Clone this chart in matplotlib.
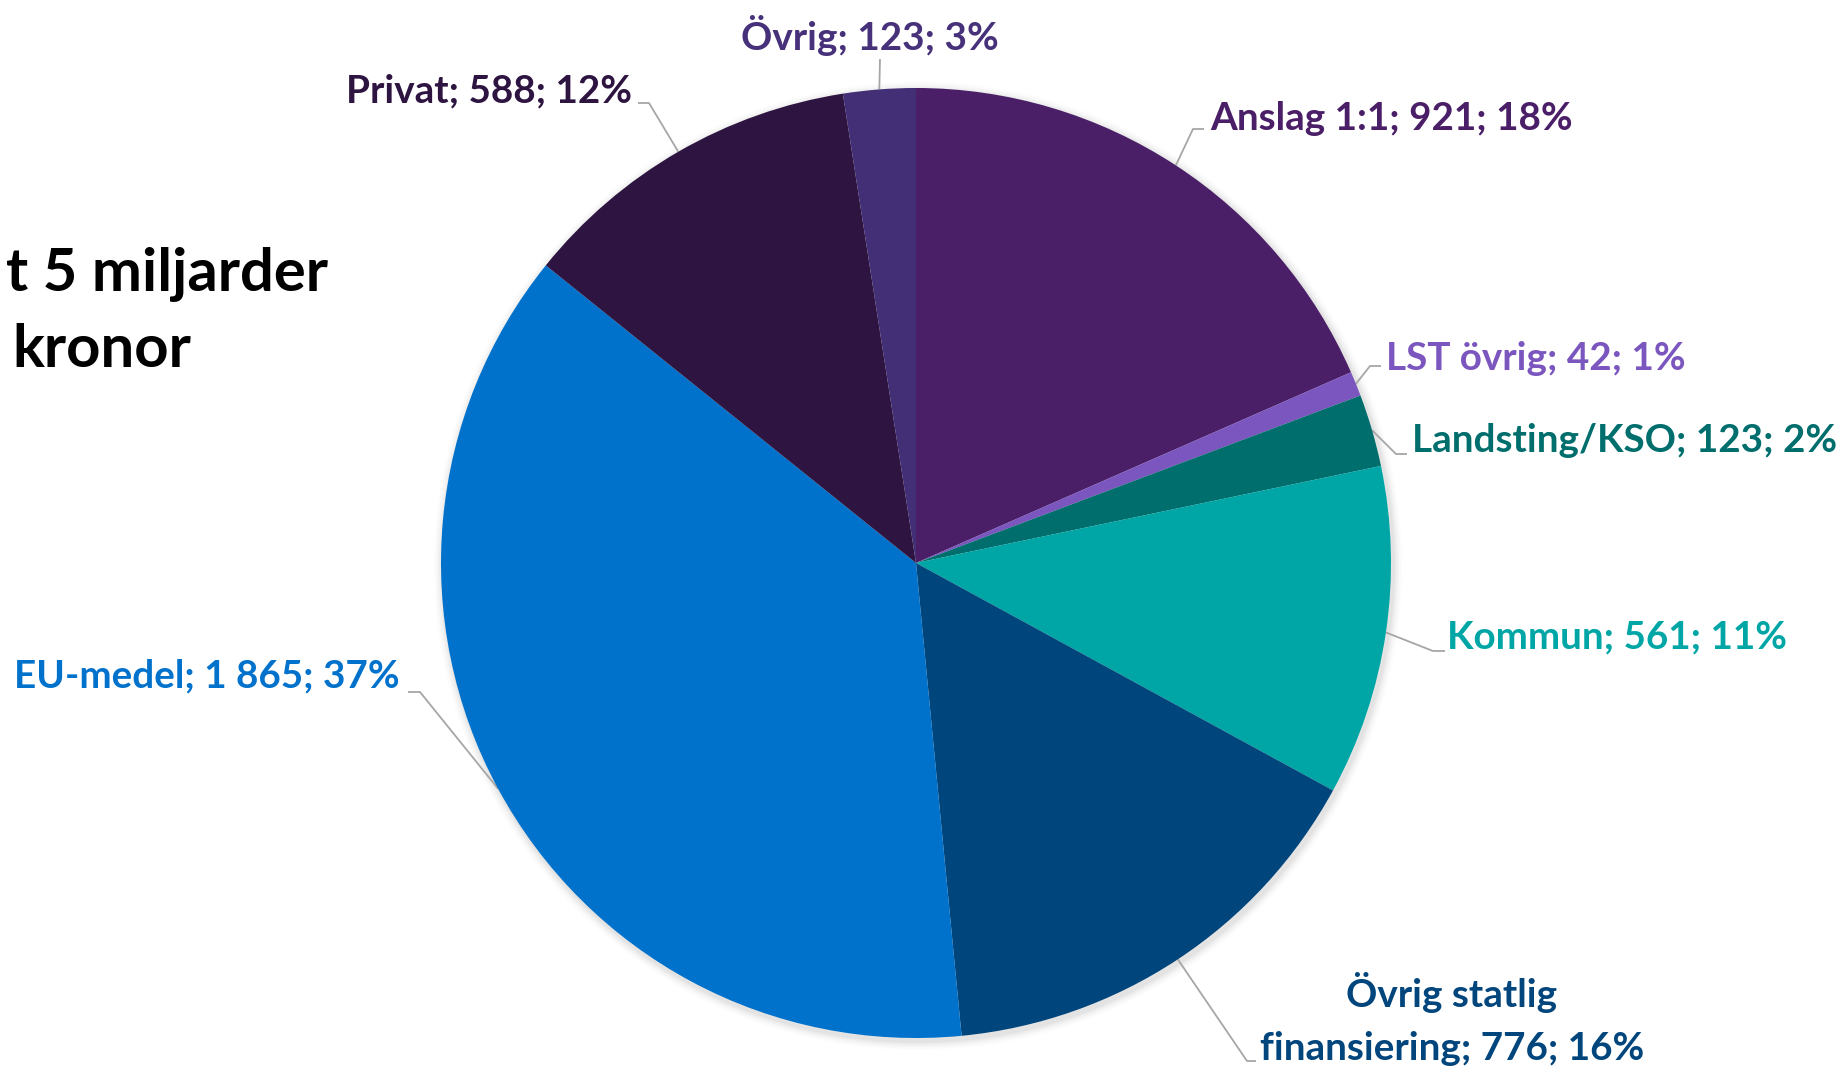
import numpy as np
import matplotlib
matplotlib.use("Agg")
import matplotlib.pyplot as plt

categories = ["Anslag 1:1", "LST övrig", "Landsting/KSO", "Kommun",
              "Övrig statlig\nfinansiering", "EU-medel", "Privat", "Övrig"]
values = [921, 42, 123, 561, 776, 1865, 588, 123]
value_labels = ["921", "42", "123", "561", "776", "1 865", "588", "123"]
pct_labels = ["18%", "1%", "2%", "11%", "16%", "37%", "12%", "3%"]
colors = ["#4B1F68", "#7B56BF", "#006E6C", "#00A6A6",
          "#00457C", "#0072CC", "#2E1440", "#432F75"]
label_colors = ["#4B1F68", "#7B56BF", "#006E6C", "#00A6A6",
                "#00457C", "#0072CC", "#2E1440", "#46317A"]

W, H = 1839, 1067
fig = plt.figure(figsize=(W / 100, H / 100), dpi=100)
ax = fig.add_axes([0, 0, 1, 1])

def P(x, y):
    return x, H - y

cx, cy = P(916, 563)
R = 475

# soft shadow
for i, a in enumerate(np.linspace(0.05, 0.01, 6)):
    ax.add_patch(plt.Circle((cx + 2, cy - 3), R + 2 + i * 1.5, color="black",
                            alpha=a * 0.6, lw=0, zorder=0))

wedges, _ = ax.pie(values, colors=colors, startangle=90, counterclock=False,
                   radius=R, center=(cx, cy), wedgeprops=dict(linewidth=0))
for w in wedges:
    w.set_zorder(2)

ax.set_xlim(0, W)
ax.set_ylim(0, H)
ax.set_aspect("equal")
ax.axis("off")

FONT = "Lato"
FS = 27.8

# label anchor: (elbow x, elbow y, end x, text x, text y, ha)
anchors = [
    (1193, 129, 1204, 1210, 118, "left"),
    (1370, 366, 1381, 1386, 359, "left"),
    (1396, 454, 1407, 1412, 440, "left"),
    (1433, 651, 1445, 1447, 637, "left"),
    (1247, 1061, 1256, 1452, 1019, "center"),
    (420, 692, 408, 400, 676, "right"),
    (649, 103, 638, 632, 91, "right"),
    (880, 59, 880, 870, 35, "center"),
]

for i, w in enumerate(wedges):
    ang = np.deg2rad((w.theta1 + w.theta2) / 2)
    sx, sy = cx + R * np.cos(ang), cy + R * np.sin(ang)
    ex, ey, endx, tx, ty, ha = anchors[i]
    px = [sx, ex, endx]
    py = [sy, H - ey, H - ey]
    ax.plot(px, py, color="#A6A6A6", lw=1.3, zorder=1,
            solid_capstyle="butt")
    txt = f"{categories[i]}; {value_labels[i]}; {pct_labels[i]}"
    ax.text(*P(tx, ty), txt, ha=ha, va="center", fontsize=FS,
            fontweight="bold", family=FONT, color=label_colors[i],
            linespacing=1.6, zorder=3)

ax.text(*P(6, 274), "t 5 miljarder", ha="left", va="center", fontsize=43,
        fontweight="bold", family=FONT, color="black")
ax.text(*P(12, 350), "kronor", ha="left", va="center", fontsize=43,
        fontweight="bold", family=FONT, color="black")

fig.savefig("out.png", dpi=100)
